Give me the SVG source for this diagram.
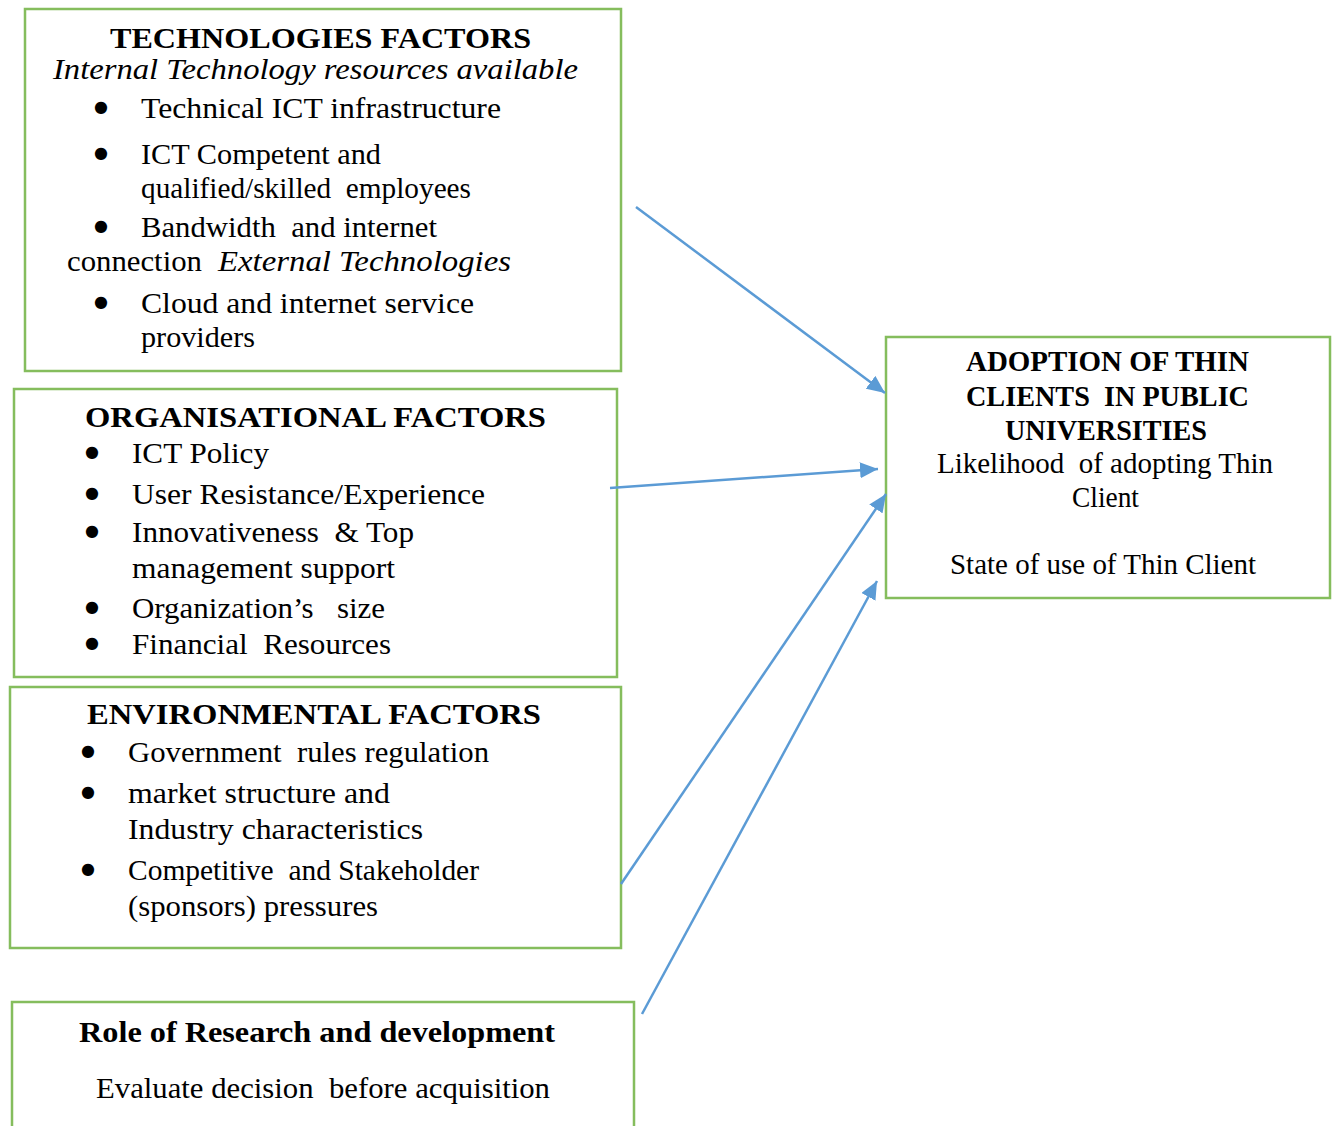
<svg xmlns="http://www.w3.org/2000/svg" width="1335" height="1126" viewBox="0 0 1335 1126">
<style>
.box{fill:none;stroke:#85bd5d;stroke-width:2.5}
text{font-family:"Liberation Serif","Times New Roman",serif;font-size:30px;fill:#000}
.b{font-weight:bold}
.i{font-style:italic}
.bu{font-family:"DejaVu Sans",sans-serif;font-size:16px;text-anchor:middle}
.conn{stroke:#5b9bd5;stroke-width:2.5;fill:none;marker-end:url(#ah)}
</style>
<defs>
<marker id="ah" markerUnits="userSpaceOnUse" markerWidth="20" markerHeight="16" refX="18" refY="8" orient="auto">
<path d="M0,0 L18,8 L0,16 Z" fill="#5b9bd5"/>
</marker>
</defs>
<rect width="1335" height="1126" fill="#fff"/>
<g id="tech">
<rect class="box" x="25" y="9" width="596" height="362"/>
<text class="b" x="110" y="48" textLength="421" lengthAdjust="spacingAndGlyphs">TECHNOLOGIES FACTORS</text>
<text class="i" x="53" y="79" textLength="525" lengthAdjust="spacingAndGlyphs">Internal Technology resources available</text>
<text class="bu" x="101" y="112">●</text><text x="141" y="118" textLength="360" lengthAdjust="spacingAndGlyphs">Technical ICT infrastructure</text>
<text class="bu" x="101" y="158">●</text><text x="141" y="164" textLength="240" lengthAdjust="spacingAndGlyphs">ICT Competent and</text>
<text x="141" y="198" textLength="330" lengthAdjust="spacingAndGlyphs" xml:space="preserve">qualified/skilled  employees</text>
<text class="bu" x="101" y="231">●</text><text x="141" y="237" textLength="296" lengthAdjust="spacingAndGlyphs" xml:space="preserve">Bandwidth  and internet</text>
<text y="271" xml:space="preserve"><tspan x="67" textLength="135" lengthAdjust="spacingAndGlyphs">connection</tspan><tspan class="i" x="218" textLength="293" lengthAdjust="spacingAndGlyphs">External Technologies</tspan></text>
<text class="bu" x="101" y="307">●</text><text x="141" y="313" textLength="333" lengthAdjust="spacingAndGlyphs">Cloud and internet service</text>
<text x="141" y="347" textLength="114" lengthAdjust="spacingAndGlyphs">providers</text>
</g>
<g id="org">
<rect class="box" x="14" y="389" width="603" height="288"/>
<text class="b" x="85" y="427" textLength="461" lengthAdjust="spacingAndGlyphs">ORGANISATIONAL FACTORS</text>
<text class="bu" x="92" y="457">●</text><text x="132" y="463" textLength="137" lengthAdjust="spacingAndGlyphs">ICT Policy</text>
<text class="bu" x="92" y="498">●</text><text x="132" y="504" textLength="353" lengthAdjust="spacingAndGlyphs">User Resistance/Experience</text>
<text class="bu" x="92" y="536">●</text><text x="132" y="542" textLength="282" lengthAdjust="spacingAndGlyphs" xml:space="preserve">Innovativeness  &amp; Top</text>
<text x="132" y="578" textLength="263" lengthAdjust="spacingAndGlyphs">management support</text>
<text class="bu" x="92" y="612">●</text><text x="132" y="618" textLength="253" lengthAdjust="spacingAndGlyphs" xml:space="preserve">Organization’s   size</text>
<text class="bu" x="92" y="648">●</text><text x="132" y="654" textLength="259" lengthAdjust="spacingAndGlyphs" xml:space="preserve">Financial  Resources</text>
</g>
<g id="env">
<rect class="box" x="10" y="687" width="611" height="261"/>
<text class="b" x="87" y="724" textLength="454" lengthAdjust="spacingAndGlyphs">ENVIRONMENTAL FACTORS</text>
<text class="bu" x="88" y="756">●</text><text x="128" y="762" textLength="361" lengthAdjust="spacingAndGlyphs" xml:space="preserve">Government  rules regulation</text>
<text class="bu" x="88" y="797">●</text><text x="128" y="803" textLength="262" lengthAdjust="spacingAndGlyphs">market structure and</text>
<text x="128" y="839" textLength="295" lengthAdjust="spacingAndGlyphs">Industry characteristics</text>
<text class="bu" x="88" y="874">●</text><text x="128" y="880" textLength="351" lengthAdjust="spacingAndGlyphs" xml:space="preserve">Competitive  and Stakeholder</text>
<text x="128" y="916" textLength="250" lengthAdjust="spacingAndGlyphs">(sponsors) pressures</text>
</g>
<g id="rnd">
<path class="box" d="M12,1130 V1002 H634 V1130"/>
<text class="b" x="79" y="1042" textLength="476" lengthAdjust="spacingAndGlyphs">Role of Research and development</text>
<text x="96" y="1098" textLength="454" lengthAdjust="spacingAndGlyphs" xml:space="preserve">Evaluate decision  before acquisition</text>
</g>
<g id="adoption">
<rect class="box" x="886" y="337" width="444" height="261"/>
<text class="b" x="966" y="371" textLength="283" lengthAdjust="spacingAndGlyphs">ADOPTION OF THIN</text>
<text class="b" x="966" y="406" textLength="283" lengthAdjust="spacingAndGlyphs" xml:space="preserve">CLIENTS  IN PUBLIC</text>
<text class="b" x="1005" y="440" textLength="202" lengthAdjust="spacingAndGlyphs">UNIVERSITIES</text>
<text x="937" y="473" textLength="336" lengthAdjust="spacingAndGlyphs" xml:space="preserve">Likelihood  of adopting Thin</text>
<text x="1072" y="507" textLength="67" lengthAdjust="spacingAndGlyphs">Client</text>
<text x="950" y="574" textLength="306" lengthAdjust="spacingAndGlyphs">State of use of Thin Client</text>
</g>
<g id="connectors">
<line class="conn" x1="636" y1="207" x2="885" y2="393"/>
<line class="conn" x1="610" y1="488" x2="878" y2="469"/>
<line class="conn" x1="621" y1="884" x2="886" y2="494"/>
<line class="conn" x1="642" y1="1014" x2="877" y2="581"/>
</g>
</svg>
